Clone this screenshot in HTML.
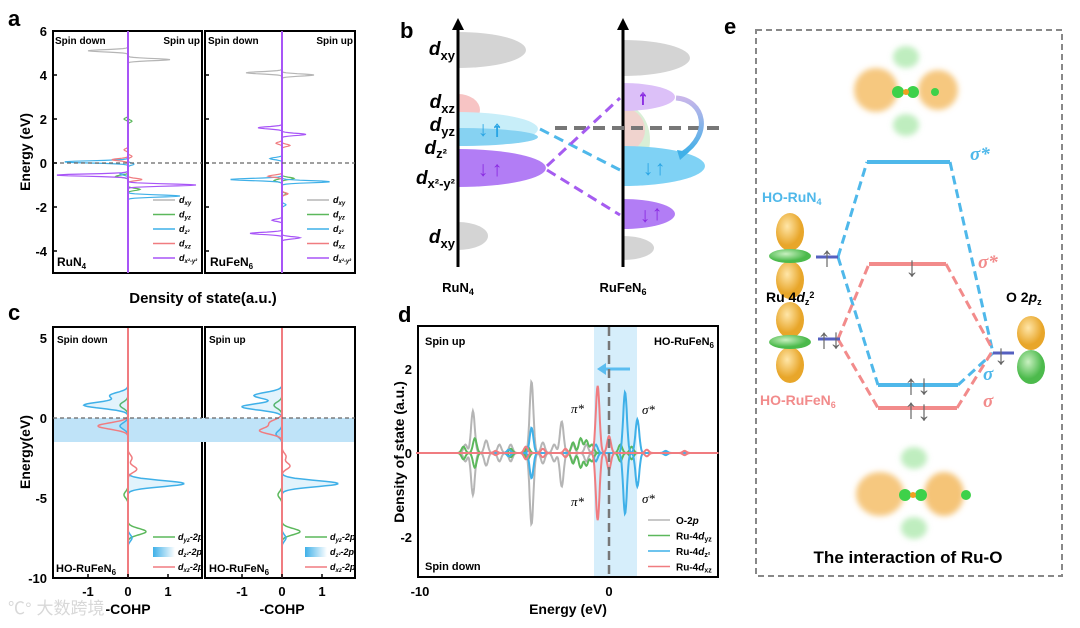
<!DOCTYPE html>
<html><head><meta charset="utf-8"><style>
html,body{margin:0;padding:0;background:#fff;}
svg{display:block;font-family:"Liberation Sans","Noto Sans CJK SC",sans-serif;}
.b{font-weight:bold}
</style></head><body>
<svg id="fig" width="1080" height="628" viewBox="0 0 1080 628" xmlns="http://www.w3.org/2000/svg">
<defs>
<linearGradient id="cg" x1="0" x2="1"><stop offset="0" stop-color="#3fb0e8"/><stop offset="1" stop-color="#ffffff"/></linearGradient>
<linearGradient id="arrg" x1="0" y1="0" x2="0" y2="1"><stop offset="0" stop-color="#c9b6ea"/><stop offset="1" stop-color="#3fb0e8"/></linearGradient>
<radialGradient id="orbY" cx="0.4" cy="0.35"><stop offset="0" stop-color="#ffe6a8"/><stop offset="1" stop-color="#e8a62a"/></radialGradient>
<radialGradient id="orbG" cx="0.4" cy="0.35"><stop offset="0" stop-color="#c8f0c0"/><stop offset="1" stop-color="#4cba4c"/></radialGradient>
<filter id="blur" x="-50%" y="-50%" width="200%" height="200%"><feGaussianBlur stdDeviation="3"/></filter>
</defs>

<text x="8" y="26" font-size="22" class="b">a</text>
<text x="400" y="38" font-size="22" class="b">b</text>
<text x="8" y="320" font-size="22" class="b">c</text>
<text x="398" y="322" font-size="22" class="b">d</text>
<text x="724" y="34" font-size="22" class="b">e</text>

<g id="pa">
<rect x="53" y="31" width="149" height="242" fill="none" stroke="#000" stroke-width="2"/>
<rect x="205" y="31" width="150" height="242" fill="none" stroke="#000" stroke-width="2"/>
<text x="55" y="44" font-size="10" class="b">Spin down</text>
<text x="200" y="44" font-size="10" class="b" text-anchor="end">Spin up</text>
<text x="208" y="44" font-size="10" class="b">Spin down</text>
<text x="353" y="44" font-size="10" class="b" text-anchor="end">Spin up</text>
<text x="57" y="266" font-size="12" class="b">RuN<tspan font-size="8" dy="3">4</tspan></text>
<text x="210" y="266" font-size="12" class="b">RuFeN<tspan font-size="8" dy="3">6</tspan></text>
<text transform="translate(30,152) rotate(-90)" font-size="14" class="b" text-anchor="middle">Energy (eV)</text>
<text x="203" y="303" font-size="15" class="b" text-anchor="middle">Density of state(a.u.)</text>
</g>

<g id="pc">
<rect x="53" y="327" width="149" height="251" fill="none" stroke="#000" stroke-width="2"/>
<rect x="205" y="327" width="150" height="251" fill="none" stroke="#000" stroke-width="2"/>
<text x="57" y="343" font-size="10" class="b">Spin down</text>
<text x="209" y="343" font-size="10" class="b">Spin up</text>
<text x="56" y="572" font-size="11" class="b">HO-RuFeN<tspan font-size="8" dy="3">6</tspan></text>
<text x="209" y="572" font-size="11" class="b">HO-RuFeN<tspan font-size="8" dy="3">6</tspan></text>
<text transform="translate(30,452) rotate(-90)" font-size="14" class="b" text-anchor="middle">Energy(eV)</text>
<text x="128" y="614" font-size="14" class="b" text-anchor="middle">-COHP</text>
<text x="282" y="614" font-size="14" class="b" text-anchor="middle">-COHP</text>
<text x="8" y="614" font-size="17" fill="#d8d8d8">℃° 大数跨境</text>
</g>

<g id="pd">
<rect x="594" y="326" width="43" height="251" fill="#d6eefb"/>
<rect x="418" y="326" width="300" height="251" fill="none" stroke="#000" stroke-width="2"/>
<text x="425" y="345" font-size="11" class="b">Spin up</text>
<text x="425" y="570" font-size="11" class="b">Spin down</text>
<text x="714" y="345" font-size="11" class="b" text-anchor="end">HO-RuFeN<tspan font-size="8" dy="3">6</tspan></text>
<text transform="translate(404,452) rotate(-90)" font-size="14" class="b" text-anchor="middle">Density of state (a.u.)</text>
<text x="568" y="614" font-size="14" class="b" text-anchor="middle">Energy (eV)</text>
<text x="571" y="413" font-size="13" font-style="italic" font-family="Liberation Serif">π*</text>
<text x="571" y="506" font-size="13" font-style="italic" font-family="Liberation Serif">π*</text>
<text x="642" y="414" font-size="13" font-style="italic" font-family="Liberation Serif">σ*</text>
<text x="642" y="503" font-size="13" font-style="italic" font-family="Liberation Serif">σ*</text>
<path d="M630 369 L603 369" stroke="#5bbdf0" stroke-width="3"/>
<path d="M597 369 L606 363 L606 375 Z" fill="#5bbdf0"/>
</g>

<g id="pb">
<path d="M458 50 m0 -18 a68 18 0 0 1 0 36 Z" fill="#d4d4d4"/>
<path d="M458 110 m0 -16 a22 16 0 0 1 0 32 Z" fill="#f7c4c4"/>
<path d="M458 129 m0 -17 a80 17 0 0 1 0 34 Z" fill="#c8eef9"/>
<path d="M458 137 m0 -9 a80 9 0 0 1 0 18 Z" fill="#86d2f2"/>
<path d="M458 168 m0 -19 a88 19 0 0 1 0 38 Z" fill="#b27df5"/>
<path d="M458 236 m0 -14 a30 14 0 0 1 0 28 Z" fill="#d4d4d4"/>
<path d="M623 58 m0 -18 a67 18 0 0 1 0 36 Z" fill="#d4d4d4"/>
<path d="M623 140 m0 -35 a27 35 0 0 1 0 70 Z" fill="#d9efd6"/>
<path d="M623 130 m0 -22 a22 22 0 0 1 0 44 Z" fill="#f5cccc" opacity="0.8"/>
<path d="M623 97 m0 -14 a52 14 0 0 1 0 28 Z" fill="#dcc0f8"/>
<path d="M623 166 m0 -20 a82 20 0 0 1 0 40 Z" fill="#7fd2f5"/>
<path d="M623 214 m0 -15 a52 15 0 0 1 0 30 Z" fill="#b27df5"/>
<path d="M623 248 m0 -12 a31 12 0 0 1 0 24 Z" fill="#d4d4d4"/>
<line x1="458" y1="267" x2="458" y2="28" stroke="#000" stroke-width="3"/>
<path d="M452 30 L458 18 L464 30 Z"/>
<line x1="623" y1="267" x2="623" y2="28" stroke="#000" stroke-width="3"/>
<path d="M617 30 L623 18 L629 30 Z"/>
<line x1="555" y1="128" x2="720" y2="128" stroke="#777" stroke-width="4" stroke-dasharray="12,7"/>
<line x1="540" y1="129" x2="620" y2="170" stroke="#4fb8ea" stroke-width="3" stroke-dasharray="10,6"/>
<line x1="547" y1="166" x2="620" y2="98" stroke="#a55cf0" stroke-width="3" stroke-dasharray="10,6"/>
<line x1="547" y1="170" x2="620" y2="215" stroke="#a55cf0" stroke-width="3" stroke-dasharray="10,6"/>
<path d="M676 98 C705 100 712 135 682 154" fill="none" stroke="url(#arrg)" stroke-width="5"/>
<path d="M677 150 L680 160 L689 152 Z" fill="#3fb0e8"/>
<g font-size="21" font-weight="bold" fill="#2aa5e4" text-anchor="middle"><text x="483" y="136">↓</text><text x="497" y="136" fill="#fff" stroke="#2aa5e4" stroke-width="1">↑</text></g>
<g font-size="21" font-weight="bold" fill="#8a2be2" text-anchor="middle"><text x="483" y="176">↓</text><text x="497" y="176">↑</text></g>
<g font-size="21" font-weight="bold" fill="#2aa5e4" text-anchor="middle"><text x="648" y="175">↓</text><text x="660" y="175">↑</text></g>
<g font-size="21" font-weight="bold" fill="#8a2be2" text-anchor="middle"><text x="645" y="222">↓</text><text x="657" y="220">↑</text></g>
<text x="643" y="104" font-size="20" font-weight="bold" fill="#fff" stroke="#8a2be2" stroke-width="1" text-anchor="middle">↑</text>
<g font-size="19" class="b" font-style="italic" text-anchor="end">
<text x="455" y="55">d<tspan font-size="13" dy="5" font-style="normal">xy</tspan></text>
<text x="455" y="108">d<tspan font-size="13" dy="5" font-style="normal">xz</tspan></text>
<text x="455" y="131">d<tspan font-size="13" dy="5" font-style="normal">yz</tspan></text>
<text x="447" y="154">d<tspan font-size="13" dy="4" font-style="normal">z²</tspan></text>
<text x="455" y="184">d<tspan font-size="13" dy="4" font-style="normal">x²-y²</tspan></text>
<text x="455" y="243">d<tspan font-size="13" dy="5" font-style="normal">xy</tspan></text>
</g>
<text x="458" y="292" font-size="13" class="b" text-anchor="middle">RuN<tspan font-size="9" dy="3">4</tspan></text>
<text x="623" y="292" font-size="13" class="b" text-anchor="middle">RuFeN<tspan font-size="9" dy="3">6</tspan></text>
</g>

<g id="pe">
<rect x="756" y="30" width="306" height="546" fill="none" stroke="#888" stroke-width="2" stroke-dasharray="6,4"/>
<g>
<g filter="url(#blur)"><ellipse cx="876" cy="90" rx="22" ry="22" fill="#f2b04a" opacity="0.7"/><ellipse cx="938" cy="90" rx="20" ry="20" fill="#f2b04a" opacity="0.7"/>
<ellipse cx="906" cy="57" rx="13" ry="11" fill="#7fdc7f" opacity="0.5"/><ellipse cx="906" cy="125" rx="13" ry="11" fill="#7fdc7f" opacity="0.5"/></g>
<circle cx="898" cy="92" r="6" fill="#3ed14a"/><circle cx="913" cy="92" r="6" fill="#3ed14a"/><circle cx="935" cy="92" r="4" fill="#3ed14a"/><circle cx="906" cy="92" r="3" fill="#f0a020"/>
</g>
<g>
<g filter="url(#blur)"><ellipse cx="880" cy="494" rx="24" ry="22" fill="#f2b04a" opacity="0.7"/><ellipse cx="944" cy="494" rx="20" ry="22" fill="#f2b04a" opacity="0.75"/>
<ellipse cx="914" cy="458" rx="13" ry="11" fill="#7fdc7f" opacity="0.5"/><ellipse cx="914" cy="528" rx="13" ry="11" fill="#7fdc7f" opacity="0.5"/></g>
<circle cx="905" cy="495" r="6" fill="#3ed14a"/><circle cx="921" cy="495" r="6" fill="#3ed14a"/><circle cx="966" cy="495" r="5" fill="#3ed14a"/><circle cx="913" cy="495" r="3" fill="#f0a020"/>
</g>
<g stroke-width="3" stroke-dasharray="9,5" fill="none">
<path d="M838 257 L867 162 M838 257 L878 385 M950 162 L993 353 M958 385 L993 353" stroke="#4fb8ea"/>
<path d="M838 339 L869 264 M838 339 L878 408 M946 264 L993 350 M957 408 L993 350" stroke="#f28b8b"/>
</g>
<line x1="867" y1="162" x2="950" y2="162" stroke="#4fb8ea" stroke-width="4"/>
<line x1="869" y1="264" x2="946" y2="264" stroke="#f28b8b" stroke-width="4"/>
<line x1="878" y1="385" x2="958" y2="385" stroke="#4fb8ea" stroke-width="4"/>
<line x1="878" y1="408" x2="957" y2="408" stroke="#f28b8b" stroke-width="4"/>
<line x1="816" y1="257" x2="838" y2="257" stroke="#5560c0" stroke-width="3"/>
<line x1="818" y1="339" x2="840" y2="339" stroke="#5560c0" stroke-width="3"/>
<line x1="993" y1="353" x2="1014" y2="353" stroke="#5560c0" stroke-width="3"/>
<g font-size="28" fill="#666" text-anchor="middle">
<text x="827" y="266">↑</text><text x="824" y="348">↑</text><text x="836" y="348">↓</text>
<text x="912" y="276">↓</text><text x="1001" y="364">↓</text>
<text x="911" y="394">↑</text><text x="924" y="394">↓</text>
<text x="911" y="418">↑</text><text x="924" y="420">↓</text>
</g>
<g>
<ellipse cx="790" cy="232" rx="14" ry="19" fill="url(#orbY)"/><ellipse cx="790" cy="280" rx="14" ry="19" fill="url(#orbY)"/><ellipse cx="790" cy="256" rx="21" ry="7" fill="url(#orbG)"/>
</g>
<g>
<ellipse cx="790" cy="320" rx="14" ry="18" fill="url(#orbY)"/><ellipse cx="790" cy="365" rx="14" ry="18" fill="url(#orbY)"/><ellipse cx="790" cy="342" rx="21" ry="7" fill="url(#orbG)"/>
</g>
<g>
<ellipse cx="1031" cy="333" rx="14" ry="17" fill="url(#orbY)"/><ellipse cx="1031" cy="367" rx="14" ry="17" fill="url(#orbG)"/>
</g>
<text x="762" y="202" font-size="14" fill="#4fb8ea" class="b">HO-RuN<tspan font-size="9" dy="3">4</tspan></text>
<text x="760" y="405" font-size="14" fill="#f28b8b" class="b">HO-RuFeN<tspan font-size="9" dy="3">6</tspan></text>
<text x="766" y="302" font-size="14" class="b">Ru 4<tspan font-style="italic">d</tspan><tspan font-size="9" dy="3">z</tspan><tspan font-size="9" dy="-7">2</tspan></text>
<text x="1006" y="302" font-size="14" class="b">O 2<tspan font-style="italic">p</tspan><tspan font-size="9" dy="3">z</tspan></text>
<g font-size="19" font-style="italic" class="b" font-family="Liberation Serif">
<text x="970" y="160" fill="#4fb8ea">σ*</text><text x="978" y="268" fill="#f28b8b">σ*</text>
<text x="983" y="380" fill="#4fb8ea">σ</text><text x="983" y="407" fill="#f28b8b">σ</text>
</g>
<text x="908" y="563" font-size="17" class="b" text-anchor="middle">The interaction of Ru-O</text>
</g>

<g id="marks"></g>
</svg>
<script>
const aOrbitals = ["dxy","dyz","dz2","dxz","dx2y2"];
const aColors = ["#b5b5b5","#5cb85c","#3fb0e8","#f07c80","#a855f7"];
const aEnergyTicks = [6,4,2,0,-2,-4];
const run4Up = [[[4.7,1.05]],[[-1.2,0.3],[1.9,0.1]],[[-1.5,1.3],[-0.05,0.15]],[[-0.75,0.35],[0.3,0.1]],[[-1.0,1.7]]];
const run4Down = [[[5.1,1.0]],[[-0.6,0.3],[2.0,0.1]],[[0.05,1.6],[-0.5,0.2]],[[0.15,0.4],[0.6,0.1]],[[-0.55,1.8]]];
const rufeUp = [[[4.0,0.8]],[[-0.7,0.3],[-1.4,0.1]],[[-0.85,1.2],[-1.9,0.1]],[[0.8,0.2],[-1.4,0.15]],[[1.3,0.6],[-3.4,0.45]]];
const rufeDown = [[[4.1,0.9]],[[-0.8,0.2]],[[-0.75,1.3],[0.2,0.3]],[[-0.6,0.35],[0.9,0.15]],[[1.6,0.6],[-3.2,0.8],[-2.6,0.25]]];
const cSeries = ["dyz-2p","dz2-2p","dxz-2p"];
const cColors = ["#5cb85c","#3fb0e8","#f07c80"];
const cEnergyTicks = [5,0,-5,-10];
const cCohpTicks = [-1,0,1];
const cDown = [[[-7.1,0.45],[-4.8,-0.1],[0.8,-0.2]],[[0.8,-1.1],[1.4,-0.45],[-0.5,-0.2],[-4.1,1.4],[-7.5,0.1]],[[-0.5,-0.75],[-3.2,0.22],[-2.5,0.1]]];
const cUp = [[[-7.1,0.45],[-4.8,-0.1],[0.8,-0.2]],[[0.7,-1.0],[1.4,-0.7],[-1.0,-0.15],[-4.1,1.4],[-7.5,0.1]],[[-0.3,-0.3],[-0.8,-0.55],[-3.0,0.2],[-2.4,0.1]]];
const dSeries = ["O-2p","Ru-4dyz","Ru-4dz2","Ru-4dxz"];
const dColors = ["#b5b5b5","#5cb85c","#3fb0e8","#f07c80"];
const dEnergyTicks = [-10,0];
const dDosTicks = [2,0,-2];
const dUp = [[[-7.2,1.0],[-7.6,0.2],[-6.5,0.3],[-5.8,0.2],[-5.2,0.2],[-4.1,1.7],[-3.5,0.25],[-2.9,0.2],[-2.5,0.75],[-1.9,0.2],[-1.2,0.2]],[[-7.7,0.15],[-7.1,0.35],[-5.2,0.1],[-4.3,0.15],[-1.9,0.25],[-1.5,0.35],[-1.2,0.3],[-0.9,0.2],[0.6,0.2],[1.2,0.15]],[[-4.1,0.6],[-0.7,0.2],[0.85,1.45],[1.5,0.8],[-5.3,0.08],[3.0,0.05]],[[-0.6,1.6],[0.0,0.4],[-4.4,0.15],[-3.5,0.1],[-2.3,0.1],[-6.0,0.05],[2.0,0.08],[4.0,0.05]]];
const dDown = [[[-7.2,1.0],[-7.6,0.2],[-6.5,0.3],[-5.8,0.2],[-5.2,0.2],[-4.1,1.7],[-3.5,0.25],[-2.9,0.2],[-2.5,0.8],[-1.9,0.2],[-1.2,0.2]],[[-7.7,0.15],[-7.1,0.35],[-5.2,0.1],[-4.3,0.15],[-1.9,0.25],[-1.5,0.35],[-1.2,0.3],[-0.9,0.2],[0.6,0.2],[1.2,0.15]],[[-4.1,0.6],[-0.7,0.2],[0.85,1.45],[1.5,0.8],[-5.3,0.08],[3.0,0.05]],[[-0.6,1.6],[0.0,0.4],[-4.4,0.15],[-3.5,0.1],[-2.3,0.1],[-6.0,0.05],[2.0,0.08],[4.0,0.05]]];

const NS="http://www.w3.org/2000/svg";
const root=document.getElementById('marks');
function mk(tag,attrs,parent){const e=document.createElementNS(NS,tag);for(const k in attrs)e.setAttribute(k,attrs[k]);(parent||root).appendChild(e);return e;}
function curve(peaks,e,w){let v=0;for(const p of peaks){v+=p[1]*Math.exp(-Math.pow((e-p[0])/w,2));}return v;}

const aY=e=>163-e*22;
function drawDosV(cx,up,down,prefix){
  for(let i=0;i<aOrbitals.length;i++){
    [[up[i],1],[down[i],-1]].forEach(([pk,sgn])=>{
      let d="";
      for(let e=-5;e<=6;e+=0.02){const x=cx+sgn*curve(pk,e,0.07)*40;d+=(d?"L":"M")+x.toFixed(1)+" "+aY(e).toFixed(1);}
      const p=mk('path',{d:d,fill:'none',stroke:aColors[i],'stroke-width':1.2});
      
      
    });
  }
  const c=mk('line',{x1:cx,y1:32,x2:cx,y2:272,stroke:'#a855f7','stroke-width':2});
  
  
}
drawDosV(128,run4Up,run4Down,'run4');
drawDosV(282,rufeUp,rufeDown,'rufen6');
[[53,202],[205,355]].forEach(([x1,x2],k)=>{
  const f=mk('line',{x1:x1,y1:aY(0),x2:x2,y2:aY(0),stroke:'#666','stroke-dasharray':'4,3','stroke-width':1.2});
  
  
});
aEnergyTicks.forEach(t=>{
  const l=mk('text',{x:47,y:aY(t)+5,'font-size':13,'font-weight':'bold','text-anchor':'end'});l.textContent=t;
  
  
  [53,205].forEach(x=>{const tk=mk('line',{x1:x,y1:aY(t),x2:x+4,y2:aY(t),stroke:'#000','stroke-width':1.5});
  
  });
});
const aLegendLabels=["xy","yz","z²","xz","x²-y²"];
[153,307].forEach((lx,k)=>{
  aOrbitals.forEach((o,i)=>{
    const y=200+i*14.5;
    const l=mk('line',{x1:lx,y1:y,x2:lx+22,y2:y,stroke:aColors[i],'stroke-width':1.5});
    
    
    const t=mk('text',{x:lx+26,y:y+3,'font-size':9,'font-weight':'bold','font-style':'italic'});
    t.innerHTML='d<tspan font-size="6" dy="2">'+aLegendLabels[i]+'</tspan>';
    
    
  });
});

const cY=e=>418-e*16;
const band=mk('rect',{x:54,y:cY(0),width:300,height:cY(-1.5)-cY(0),fill:'#bfe3f8'});


function drawCohp(cx,data,prefix){
  for(let i=0;i<cSeries.length;i++){
    let d="";
    for(let e=-10;e<=5;e+=0.04){const x=cx+curve(data[i],e,0.28)*40;d+=(d?"L":"M")+x.toFixed(1)+" "+cY(e).toFixed(1);}
    if(i===1){const f=mk('path',{d:d+"L"+cx+" "+cY(5)+"L"+cx+" "+cY(-10)+"Z",fill:'#3fb0e8','fill-opacity':0.15,stroke:'none'});
      
      }
    const p=mk('path',{d:d,fill:'none',stroke:cColors[i],'stroke-width':1.5});
    
    
  }
  const z=mk('line',{x1:cx,y1:328,x2:cx,y2:577,stroke:'#f07c80','stroke-width':2});
  
  
}
drawCohp(128,cDown,'cohp-down');
drawCohp(282,cUp,'cohp-up');
[[53,202],[205,355]].forEach(([x1,x2],k)=>{
  const f=mk('line',{x1:x1,y1:cY(0),x2:x2,y2:cY(0),stroke:'#666','stroke-dasharray':'4,3','stroke-width':1.2});
  
  
});
cEnergyTicks.forEach(t=>{
  const y=Math.min(Math.max(cY(t),328),578);
  const l=mk('text',{x:47,y:y+5,'font-size':13,'font-weight':'bold','text-anchor':'end'});l.textContent=t;
  
  
});
[128,282].forEach(cx=>cCohpTicks.forEach(t=>{
  const l=mk('text',{x:cx+t*40,y:596,'font-size':13,'font-weight':'bold','text-anchor':'middle'});l.textContent=t;
  
  
  const tk=mk('line',{x1:cx+t*40,y1:578,x2:cx+t*40,y2:574,stroke:'#000','stroke-width':1.5});
  
  
}));
const cLegendLabels=["yz","z²","xz"];
[153,305].forEach(lx=>{
  cSeries.forEach((s,i)=>{
    const y=537+i*15;
    let m;
    if(i===1) m=mk('rect',{x:lx,y:y-5,width:22,height:10,fill:'url(#cg)'});
    else m=mk('line',{x1:lx,y1:y,x2:lx+22,y2:y,stroke:cColors[i],'stroke-width':1.5});
    
    
    const t=mk('text',{x:lx+25,y:y+3,'font-size':9,'font-weight':'bold','font-style':'italic'});
    t.innerHTML='d<tspan font-size="6" dy="2">'+cLegendLabels[i]+'</tspan><tspan dy="-2">-2p</tspan>';
    
    
  });
});

const dX=e=>609+e*18.9, dY=v=>453-v*42;
for(let i=0;i<dSeries.length;i++){
  [[dUp[i],1],[dDown[i],-1]].forEach(([pk,sgn])=>{
    let d="";
    for(let e=-10.2;e<=5.8;e+=0.03){d+=(d?"L":"M")+dX(e).toFixed(1)+" "+dY(sgn*curve(pk,e,0.14)).toFixed(1);}
    const p=mk('path',{d:d,fill:'none',stroke:dColors[i],'stroke-width':2});
    
    
  });
}
const fl=mk('line',{x1:dX(0),y1:327,x2:dX(0),y2:576,stroke:'#777','stroke-width':2.5,'stroke-dasharray':'9,5'});


dDosTicks.forEach(t=>{
  const l=mk('text',{x:412,y:dY(t)+5,'font-size':13,'font-weight':'bold','text-anchor':'end'});l.textContent=t;
  
  
});
dEnergyTicks.forEach(t=>{
  const l=mk('text',{x:dX(t),y:596,'font-size':13,'font-weight':'bold','text-anchor':'middle'});l.textContent=t;
  
  
});
const dLegendHtml=['O-2<tspan font-style="italic">p</tspan>','Ru-4<tspan font-style="italic">d</tspan><tspan font-size="7" dy="2">yz</tspan>','Ru-4<tspan font-style="italic">d</tspan><tspan font-size="7" dy="2">z²</tspan>','Ru-4<tspan font-style="italic">d</tspan><tspan font-size="7" dy="2">xz</tspan>'];
dSeries.forEach((s,i)=>{
  const y=520+i*15.5;
  const l=mk('line',{x1:648,y1:y,x2:670,y2:y,stroke:dColors[i],'stroke-width':1.5});
  
  
  const t=mk('text',{x:676,y:y+4,'font-size':10,'font-weight':'bold'});
  t.innerHTML=dLegendHtml[i];
  
  
});
</script>
</body></html>
